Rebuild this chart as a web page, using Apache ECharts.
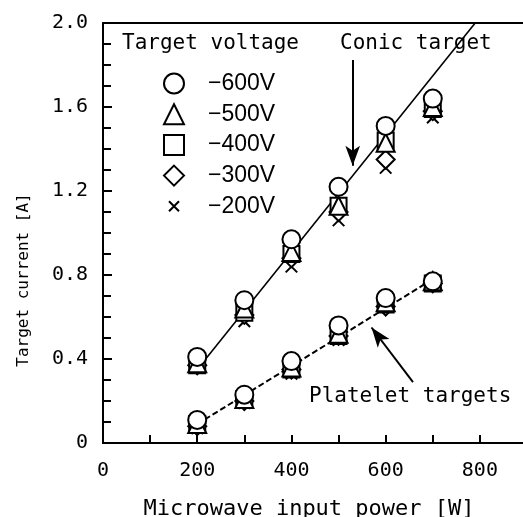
<!DOCTYPE html>
<html><head><meta charset="utf-8">
<script src="https://cdn.jsdelivr.net/npm/echarts@6/dist/echarts.min.js"></script>
<style>html,body{margin:0;padding:0;background:#fff}#c{width:523px;height:517px}</style>
</head><body><div id="c"></div>
<script>
const power = [200, 300, 400, 500, 600, 700];
const voltages = ['\u2212600V', '\u2212500V', '\u2212400V', '\u2212300V', '\u2212200V'];
const conic600 = [0.41, 0.68, 0.97, 1.22, 1.51, 1.64];
const conic500 = [0.38, 0.64, 0.91, 1.13, 1.43, 1.60];
const conic400 = [0.37, 0.62, 0.90, 1.13, 1.44, 1.59];
const conic300 = [0.37, 0.61, 0.88, 1.10, 1.35, 1.58];
const conic200 = [0.36, 0.58, 0.84, 1.06, 1.31, 1.55];
const platelet600 = [0.11, 0.23, 0.39, 0.56, 0.69, 0.77];
const platelet500 = [0.09, 0.21, 0.36, 0.52, 0.67, 0.77];
const platelet400 = [0.09, 0.21, 0.35, 0.51, 0.66, 0.76];
const platelet300 = [0.08, 0.20, 0.35, 0.51, 0.65, 0.76];
const platelet200 = [0.07, 0.19, 0.33, 0.49, 0.65, 0.76];
const conicFitX = [200, 790];
const conicFitY = [0.35, 2.0];
const plateletFitX = [200, 700];
const plateletFitY = [0.09, 0.78];
const xTicks = [0, 200, 400, 600, 800];
const yTicks = [0, 0.4, 0.8, 1.2, 1.6, 2.0];

const conicSets = [conic600, conic500, conic400, conic300, conic200];
const plateletSets = [platelet600, platelet500, platelet400, platelet300, platelet200];
const crossPath = 'path://M-5,-5L-5,-5M15,15L15,15M0,0L10,10M10,0L0,10';
const symbols = ['circle', 'triangle', 'rect', 'diamond', crossPath];
const sizes = [18, 18, 16, 18, 23];
const zs = [10, 9, 8, 7, 6];
const mono = '"DejaVu Sans Mono", monospace';
const sans = '"Liberation Sans", Arial, sans-serif';

const pairs = (xs, ys) => xs.map((x, i) => [x, ys[i]]);

const scatterSeries = voltages.map((name, k) => ({
  name: name,
  type: 'scatter',
  symbol: symbols[k],
  symbolSize: sizes[k],
  z: zs[k],
  itemStyle: { color: '#fff', borderColor: '#000', borderWidth: 2, opacity: 1 },
  data: pairs(power, conicSets[k]).concat(pairs(power, plateletSets[k]))
}));

const chart = echarts.init(document.getElementById('c'), null, { renderer: 'canvas' });
chart.setOption({
  backgroundColor: '#fff',
  animation: false,
  grid: { left: 103, top: 23, right: -4, bottom: 74, show: true, borderColor: '#000', borderWidth: 2, backgroundColor: 'transparent', containLabel: false, outerBoundsMode: 'none' },
  xAxis: {
    type: 'value', min: 0, max: 900, interval: 100,
    name: 'Microwave input power [W]', nameLocation: 'middle', nameGap: 55,
    nameTextStyle: { fontFamily: mono, fontSize: 22, color: '#000', padding: [0, 12, 0, 0] },
    axisLine: { show: true, onZero: false, lineStyle: { color: '#000', width: 2 } },
    axisTick: { show: true, inside: true, length: 8, lineStyle: { color: '#000', width: 2 } },
    splitLine: { show: false },
    axisLabel: {
      margin: 18, fontFamily: mono, fontSize: 20, color: '#000',
      formatter: v => xTicks.indexOf(v) >= 0 ? String(v) : ''
    }
  },
  yAxis: {
    type: 'value', min: 0, max: 2.0, interval: 0.4,
    axisLine: { show: true, onZero: false, lineStyle: { color: '#000', width: 2 } },
    axisTick: { show: true, inside: true, length: 9, lineStyle: { color: '#000', width: 2 } },
    minorTick: { show: true, splitNumber: 4, length: 8, lineStyle: { color: '#000', width: 2 } },
    splitLine: { show: false },
    axisLabel: {
      margin: 15, fontFamily: mono, fontSize: 20, color: '#000',
      formatter: v => { const t = yTicks.find(y => Math.abs(y - v) < 1e-6); return t === 0 ? '0' : t.toFixed(1); }
    }
  },
  legend: {
    orient: 'vertical', left: 158, top: 67,
    itemWidth: 20, itemHeight: 20, itemGap: 7.7,
    data: voltages,
    selectedMode: false,
    textStyle: { fontFamily: sans, fontSize: 23, lineHeight: 20, color: '#000', padding: [0, 0, 0, 19] }
  },
  graphic: [
    { type: 'text', x: 24, y: 280, rotation: Math.PI / 2, style: { text: 'Target current [A]', font: '16px ' + mono, fill: '#000', align: 'center', verticalAlign: 'middle' } },
    { type: 'text', left: 122, top: 33, style: { text: 'Target voltage', font: '21px ' + mono, fill: '#000' } },
    { type: 'text', left: 340, top: 33, style: { text: 'Conic target', font: '21px ' + mono, fill: '#000' } },
    { type: 'text', left: 309, top: 386, style: { text: 'Platelet targets', font: '21px ' + mono, fill: '#000' } }
  ],
  series: scatterSeries.concat([
    {
      type: 'line', name: 'conicFit', data: pairs(conicFitX, conicFitY), symbol: 'none', z: 3,
      lineStyle: { color: '#000', width: 1.6, type: 'solid' },
      markLine: {
        silent: true, symbol: ['none', 'arrow'], symbolSize: [11, 20], label: { show: false },
        lineStyle: { color: '#000', width: 2, type: 'solid' },
        data: [
          [{ coord: [530, 1.824] }, { coord: [530, 1.32] }],
          [{ coord: [658, 0.29] }, { coord: [570, 0.55] }]
        ]
      }
    },
    {
      type: 'line', name: 'plateletFit', data: pairs(plateletFitX, plateletFitY), symbol: 'none', z: 3,
      lineStyle: { color: '#000', width: 2, type: [6, 3] }
    }
  ])
});
</script></body></html>
